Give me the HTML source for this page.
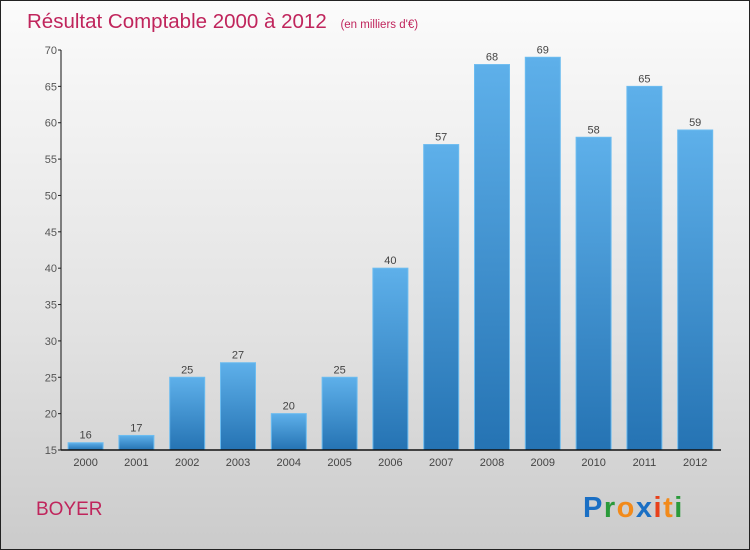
<!DOCTYPE html>
<html><head><meta charset="utf-8"><style>
body{margin:0;}
#wrap{position:relative;width:748px;height:548px;border:1px solid #222;background:linear-gradient(#fbfbfb,#e2e2e2 60%,#cbcbcb);font-family:"Liberation Sans",sans-serif;overflow:hidden}
</style></head><body>
<div id="wrap">
<svg id="chart" width="748" height="548">
<defs><linearGradient id="bg" x1="0" y1="0" x2="0" y2="1"><stop offset="0" stop-color="#5eb0ea"/><stop offset="1" stop-color="#2573b3"/></linearGradient></defs>
<text x="26" y="27" font-size="20.5" fill="#c0255c">Résultat Comptable 2000 à 2012 <tspan font-size="11.5" dx="8">(en milliers d'€)</tspan></text>
<text x="35" y="514" font-size="19" fill="#c0255c">BOYER</text>
<text x="582" y="516" font-size="29" font-weight="bold" letter-spacing="1.5"><tspan fill="#1a6fc4">P</tspan><tspan fill="#2a9a3a">r</tspan><tspan fill="#f28a1a">o</tspan><tspan fill="#1a6fc4">x</tspan><tspan fill="#e8401a">i</tspan><tspan fill="#f28a1a">t</tspan><tspan fill="#2a9a3a">i</tspan></text>
<g id="plot"></g>
</svg>
</div>
<script>
const categories=["2000","2001","2002","2003","2004","2005","2006","2007","2008","2009","2010","2011","2012"];
const values=[16,17,25,27,20,25,40,57,68,69,58,65,59];
const yTicks=[15,20,25,30,35,40,45,50,55,60,65,70];
const ns="http://www.w3.org/2000/svg";
const g=document.getElementById('plot');
const x0=60,x1=720,yB=449,yT=49,vMin=15,vMax=70;
const y=v=>yB-(v-vMin)/(vMax-vMin)*(yB-yT);
const step=50.8,first=84.6,bw=35;
const xc=i=>first+i*step;
function el(t,a){const e=document.createElementNS(ns,t);for(const k in a)e.setAttribute(k,a[k]);g.appendChild(e);return e;}
yTicks.forEach(t=>{
 const tk=el('line',{x1:x0-3,x2:x0,y1:y(t),y2:y(t),stroke:'#222'});
 
 
 const tx=el('text',{x:x0-4,y:y(t)+4,'font-size':11,fill:'#555','text-anchor':'end'});
 tx.textContent=t;
 
 
});
categories.forEach((c,i)=>{
 const r=el('rect',{x:xc(i)-bw/2,y:y(values[i]),width:bw,height:yB-y(values[i]),fill:'url(#bg)',stroke:'#6cbcf0','stroke-width':1});
 
 
 const v=el('text',{x:xc(i),y:y(values[i])-4,'font-size':11,fill:'#444','text-anchor':'middle'});
 v.textContent=values[i];
 
 
 const l=el('text',{x:xc(i),y:yB+16,'font-size':11,fill:'#444','text-anchor':'middle'});
 l.textContent=c;
 
 
});
const ax=el('line',{x1:x0,x2:x0,y1:yT,y2:yB,stroke:'#111'});


const bx=el('line',{x1:x0,x2:x1,y1:yB,y2:yB,stroke:'#111','stroke-width':1.5});


</script>
</body></html>
